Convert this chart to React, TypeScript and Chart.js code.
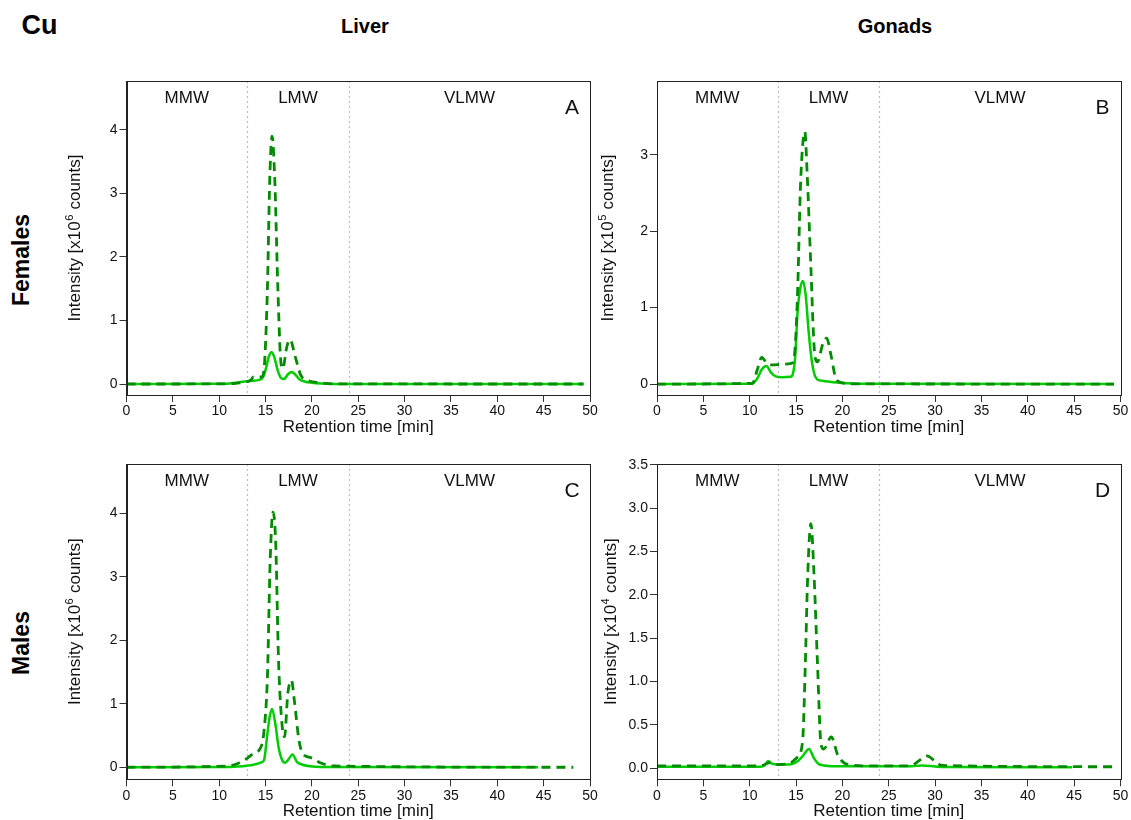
import React, { useEffect, useRef } from "react";
import { Chart, registerables } from "chart.js";

Chart.register(...registerables);

const FONT = "'Liberation Sans', Arial, Helvetica, sans-serif";
const SOLID_COLOR = "#00CD00";
const DASH_COLOR = "#008B00";

// ---- axis ticks / regions ----
const xTicks = [0, 5, 10, 15, 20, 25, 30, 35, 40, 45, 50];
const yTicksLiver = [0, 1, 2, 3, 4];
const yTicksGonadsF = [0, 1, 2, 3];
const yTicksGonadsM = [0, 0.5, 1.0, 1.5, 2.0, 2.5, 3.0, 3.5];
const regionBounds = [13, 24];
const regionLabels = ["MMW", "LMW", "VLMW"];
const regionCenters = [6.5, 18.5, 37];

// ---- Panel A: Females, Liver (x10^6 counts) ----
const femLiverSolidT = [0, 10.5, 11.5, 12.5, 13.5, 14.3, 14.75, 15.05, 15.35, 15.65, 15.95, 16.3, 16.7, 17.0, 17.4, 17.8, 18.2, 18.6, 19.2, 20.0, 21.0, 22.5, 49.3];
const femLiverSolid = [0, 0.003, 0.015, 0.035, 0.05, 0.065, 0.11, 0.25, 0.43, 0.5, 0.42, 0.22, 0.09, 0.08, 0.15, 0.19, 0.15, 0.08, 0.04, 0.02, 0.008, 0.002, 0];
const femLiverDashT = [0, 11.0, 12.0, 12.9, 13.4, 13.7, 14.6, 14.9, 15.2, 15.45, 15.7, 16.0, 16.3, 16.6, 16.85, 17.3, 17.65, 18.2, 18.8, 19.5, 20.9, 22.5, 49.3];
const femLiverDash = [0, 0.003, 0.015, 0.035, 0.06, 0.11, 0.11, 0.35, 1.5, 3.2, 3.9, 3.2, 1.64, 0.45, 0.24, 0.59, 0.7, 0.43, 0.14, 0.06, 0.02, 0.003, 0];

// ---- Panel B: Females, Gonads (x10^5 counts) ----
const femGonSolidT = [0, 10.2, 10.8, 11.3, 11.8, 12.3, 12.8, 13.5, 14.4, 14.65, 14.9, 15.15, 15.45, 15.75, 16.05, 16.35, 16.7, 17.0, 17.3, 18.0, 19.0, 20.5, 22.5, 49.3];
const femGonSolid = [0, 0.005, 0.07, 0.19, 0.235, 0.15, 0.1, 0.09, 0.095, 0.13, 0.35, 0.92, 1.25, 1.35, 1.15, 0.7, 0.3, 0.12, 0.06, 0.04, 0.025, 0.012, 0.004, 0];
const femGonDashT = [0, 10.3, 10.8, 11.3, 11.85, 12.5, 13.5, 14.5, 14.85, 15.15, 15.5, 15.95, 16.2, 16.6, 16.95, 17.3, 17.9, 18.3, 18.8, 19.3, 19.9, 21.0, 49.3];
const femGonDash = [0, 0.01, 0.18, 0.35, 0.27, 0.25, 0.26, 0.27, 0.4, 1.14, 2.66, 3.3, 2.75, 1.53, 0.49, 0.29, 0.53, 0.6, 0.36, 0.07, 0.02, 0.003, 0];

// ---- Panel C: Males, Liver (x10^6 counts) ----
const maleLiverSolidT = [0, 10.5, 12.0, 13.0, 13.7, 14.6, 14.85, 15.2, 15.45, 15.7, 16.1, 16.4, 16.8, 17.1, 17.5, 17.9, 18.4, 19.0, 19.8, 21.0, 44.4];
const maleLiverSolid = [0, 0.003, 0.012, 0.025, 0.04, 0.08, 0.12, 0.53, 0.8, 0.92, 0.64, 0.32, 0.11, 0.07, 0.13, 0.2, 0.08, 0.04, 0.015, 0.003, 0];
const maleLiverDashT = [0, 10.9, 12.0, 13.0, 13.7, 14.5, 14.8, 15.2, 15.5, 15.8, 16.1, 16.4, 16.8, 17.05, 17.4, 17.8, 18.1, 18.6, 19.0, 19.9, 20.9, 22.4, 48.2];
const maleLiverDash = [0, 0.02, 0.06, 0.14, 0.22, 0.32, 0.53, 1.42, 3.26, 4.02, 3.52, 1.69, 0.64, 0.48, 1.16, 1.37, 1.06, 0.43, 0.22, 0.15, 0.07, 0.02, 0];

// ---- Panel D: Males, Gonads (x10^4 counts) ----
const maleGonSolidT = [0, 11.2, 11.7, 12.0, 12.4, 13.0, 14.5, 15.2, 15.8, 16.4, 16.9, 17.4, 18.0, 20.0, 27.5, 28.6, 30.0, 31.0, 44.8];
const maleGonSolid = [0.015, 0.015, 0.04, 0.08, 0.05, 0.04, 0.045, 0.08, 0.15, 0.22, 0.12, 0.05, 0.03, 0.02, 0.02, 0.03, 0.018, 0.012, 0.01];
const maleGonDashT = [0, 11.2, 12.1, 13.0, 14.4, 15.1, 15.7, 16.0, 16.25, 16.6, 16.95, 17.3, 17.7, 18.0, 18.8, 19.5, 20.6, 22.7, 27.4, 28.2, 29.1, 30.0, 30.7, 49.2];
const maleGonDash = [0.025, 0.025, 0.06, 0.04, 0.06, 0.12, 0.3, 1.2, 2.2, 2.82, 2.2, 1.24, 0.27, 0.22, 0.36, 0.15, 0.04, 0.025, 0.025, 0.08, 0.14, 0.08, 0.03, 0.015];

type PanelProps = {
  solidT: number[];
  solidV: number[];
  dashT: number[];
  dashV: number[];
  yMin: number;
  yMax: number;
  yTicks: number[];
  decimals: number;
  exponent: string;
  letter: string;
  left: number;
  top: number;
  width: number;
  height: number;
  yAxisW: number;
  xAxisH: number;
  padTop: number;
  padRight: number;
  yTitleOffset: number;
};

function Panel(p: PanelProps) {
  const ref = useRef<HTMLCanvasElement | null>(null);

  useEffect(() => {
    const canvas = ref.current;
    if (!canvas) return;

    const decor = {
      id: "panelDecor",
      beforeDatasetsDraw(chart: any) {
        const { ctx, chartArea, scales } = chart;
        const x = scales.x;
        ctx.save();
        ctx.strokeStyle = "#bdbdbd";
        ctx.lineWidth = 1.2;
        ctx.setLineDash([2, 3]);
        regionBounds.forEach((b) => {
          const px = Math.round(x.getPixelForValue(b)) + 0.5;
          ctx.beginPath();
          ctx.moveTo(px, chartArea.top);
          ctx.lineTo(px, chartArea.bottom);
          ctx.stroke();
        });
        ctx.restore();
      },
      afterDraw(chart: any) {
        const { ctx, chartArea, scales } = chart;
        const x = scales.x;
        ctx.save();
        // box
        ctx.strokeStyle = "#222";
        ctx.lineWidth = 1;
        ctx.setLineDash([]);
        ctx.strokeRect(
          Math.round(chartArea.left) + 0.5,
          Math.round(chartArea.top) + 0.5,
          Math.round(chartArea.right) - Math.round(chartArea.left),
          Math.round(chartArea.bottom) - Math.round(chartArea.top)
        );
        // region labels
        ctx.fillStyle = "#111";
        ctx.font = `17px ${FONT}`;
        ctx.textAlign = "center";
        ctx.textBaseline = "middle";
        regionLabels.forEach((lab, i) => {
          ctx.fillText(lab, x.getPixelForValue(regionCenters[i]), chartArea.top + 17);
        });
        // panel letter
        ctx.font = `21px ${FONT}`;
        ctx.fillText(p.letter, chartArea.right - 18, chartArea.top + 27);
        // x title
        ctx.font = `17px ${FONT}`;
        ctx.fillText("Retention time [min]", (chartArea.left + chartArea.right) / 2, chartArea.bottom + 32.5);
        // y title with superscript
        const cx = chartArea.left - p.yTitleOffset;
        const cy = (chartArea.top + chartArea.bottom) / 2;
        ctx.translate(cx, cy);
        ctx.rotate(-Math.PI / 2);
        ctx.textAlign = "left";
        ctx.textBaseline = "alphabetic";
        const part1 = "Intensity [x10";
        const part3 = " counts]";
        ctx.font = `17px ${FONT}`;
        const w1 = ctx.measureText(part1).width;
        const w3 = ctx.measureText(part3).width;
        ctx.font = `11px ${FONT}`;
        const ws = ctx.measureText(p.exponent).width + 1;
        const total = w1 + ws + w3;
        const x0 = -total / 2;
        const base = 6;
        ctx.font = `17px ${FONT}`;
        ctx.fillText(part1, x0, base);
        ctx.font = `11px ${FONT}`;
        ctx.fillText(p.exponent, x0 + w1 + 0.5, base - 7);
        ctx.font = `17px ${FONT}`;
        ctx.fillText(part3, x0 + w1 + ws, base);
        ctx.restore();
      },
    };

    const chart = new Chart(canvas, {
      type: "line",
      data: {
        datasets: [
          {
            data: p.dashT.map((t, i) => ({ x: t, y: p.dashV[i] })),
            borderColor: DASH_COLOR,
            borderWidth: 2.8,
            borderDash: [9, 6],
            pointRadius: 0,
            cubicInterpolationMode: "monotone",
            fill: false,
          },
          {
            data: p.solidT.map((t, i) => ({ x: t, y: p.solidV[i] })),
            borderColor: SOLID_COLOR,
            borderWidth: 2.5,
            pointRadius: 0,
            cubicInterpolationMode: "monotone",
            fill: false,
          },
        ],
      },
      options: {
        animation: false,
        responsive: false,
        maintainAspectRatio: false,
        layout: { padding: { left: 0, right: p.padRight, top: p.padTop, bottom: 0 } },
        plugins: { legend: { display: false }, tooltip: { enabled: false } },
        scales: {
          x: {
            type: "linear",
            min: 0,
            max: 50,
            afterBuildTicks: (s: any) => {
              s.ticks = xTicks.map((v) => ({ value: v }));
            },
            afterFit: (s: any) => {
              s.height = p.xAxisH;
            },
            grid: {
              display: true,
              drawOnChartArea: false,
              drawTicks: true,
              tickLength: 7,
              color: "#333",
              tickColor: "#333",
            },
            border: { display: true, color: "#222", width: 1 },
            ticks: {
              font: { family: FONT, size: 14 },
              color: "#111",
              padding: 1,
              maxRotation: 0,
              autoSkip: false,
            },
          },
          y: {
            type: "linear",
            min: p.yMin,
            max: p.yMax,
            afterBuildTicks: (s: any) => {
              s.ticks = p.yTicks.map((v) => ({ value: v }));
            },
            afterFit: (s: any) => {
              s.width = p.yAxisW;
            },
            grid: {
              display: true,
              drawOnChartArea: false,
              drawTicks: true,
              tickLength: 7,
              color: "#333",
              tickColor: "#333",
            },
            border: { display: true, color: "#222", width: 1 },
            ticks: {
              font: { family: FONT, size: 14 },
              color: "#111",
              padding: 2,
              autoSkip: false,
              callback: (v: any) => Number(v).toFixed(p.decimals),
            },
          },
        },
      } as any,
      plugins: [decor as any],
    });

    return () => chart.destroy();
  }, []);

  return (
    <canvas
      ref={ref}
      width={p.width}
      height={p.height}
      style={{ position: "absolute", left: p.left, top: p.top, width: p.width, height: p.height }}
    />
  );
}

const boldLabel = (text: string, cx: number, cy: number, size: number, rotate = false) => (
  <div
    style={{
      position: "absolute",
      left: cx,
      top: cy,
      transform: `translate(-50%, -50%)${rotate ? " rotate(-90deg)" : ""}`,
      fontFamily: FONT,
      fontWeight: "bold",
      fontSize: size,
      lineHeight: 1,
      whiteSpace: "nowrap",
      color: "#000",
    }}
  >
    {text}
  </div>
);

export default function App() {
  return (
    <div
      style={{
        position: "absolute",
        left: 0,
        top: 0,
        width: 1131,
        height: 820,
        background: "#fff",
        overflow: "hidden",
      }}
    >
      {boldLabel("Cu", 39.5, 25, 27)}
      {boldLabel("Liver", 365, 25.5, 20)}
      {boldLabel("Gonads", 895, 25.5, 20)}
      {boldLabel("Females", 21, 260, 23, true)}
      {boldLabel("Males", 21, 643, 23, true)}

      <Panel
        solidT={femLiverSolidT}
        solidV={femLiverSolid}
        dashT={femLiverDashT}
        dashV={femLiverDash}
        yMin={-0.173}
        yMax={4.77}
        yTicks={yTicksLiver}
        decimals={0}
        exponent="6"
        letter="A"
        left={30}
        top={60}
        width={590}
        height={385}
        yAxisW={96.5}
        xAxisH={50}
        padTop={21}
        padRight={30}
        yTitleOffset={53}
      />
      <Panel
        solidT={femGonSolidT}
        solidV={femGonSolid}
        dashT={femGonDashT}
        dashV={femGonDash}
        yMin={-0.143}
        yMax={3.965}
        yTicks={yTicksGonadsF}
        decimals={0}
        exponent="5"
        letter="B"
        left={560}
        top={60}
        width={571}
        height={385}
        yAxisW={97}
        xAxisH={50}
        padTop={21}
        padRight={10.5}
        yTitleOffset={50}
      />
      <Panel
        solidT={maleLiverSolidT}
        solidV={maleLiverSolid}
        dashT={maleLiverDashT}
        dashV={maleLiverDash}
        yMin={-0.19}
        yMax={4.78}
        yTicks={yTicksLiver}
        decimals={0}
        exponent="6"
        letter="C"
        left={30}
        top={443}
        width={590}
        height={377}
        yAxisW={96.5}
        xAxisH={40.7}
        padTop={21}
        padRight={30}
        yTitleOffset={53}
      />
      <Panel
        solidT={maleGonSolidT}
        solidV={maleGonSolid}
        dashT={maleGonDashT}
        dashV={maleGonDash}
        yMin={-0.13}
        yMax={3.51}
        yTicks={yTicksGonadsM}
        decimals={1}
        exponent="4"
        letter="D"
        left={560}
        top={443}
        width={571}
        height={377}
        yAxisW={97}
        xAxisH={40.7}
        padTop={21}
        padRight={10.5}
        yTitleOffset={47}
      />
    </div>
  );
}
